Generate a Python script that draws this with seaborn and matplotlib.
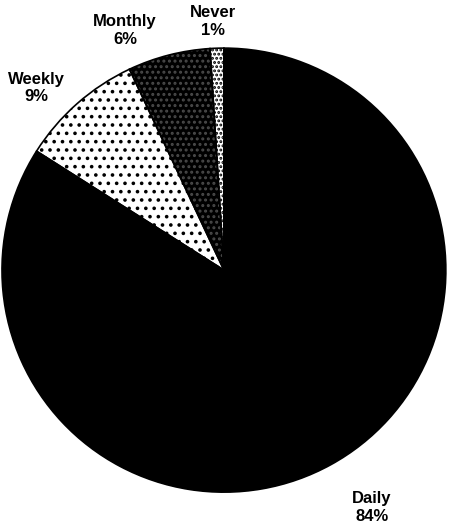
import matplotlib
matplotlib.use("Agg")
import matplotlib.pyplot as plt
import seaborn as sns

# data
categories = ["Daily", "Weekly", "Monthly", "Never"]
shares = [84, 9, 6, 1]

# look of each wedge: face colour, hatch, hatch colour
faces = ["black", "white", "black", "white"]
hatches = [None, "..", "...", "...."]
hatch_cols = ["black", "black", "#4a4a4a", "black"]

sns.set_style("white")
plt.rcParams['font.family'] = ['Liberation Sans', 'DejaVu Sans']
plt.rcParams['hatch.linewidth'] = 1.4

fig = plt.figure(figsize=(4.52, 5.23), dpi=100)
ax = fig.add_axes([0.0044, 0.059, 0.982, 0.849])

labels = [f"{c}\n{s}%" for c, s in zip(categories, shares)]
wedges, texts = ax.pie(shares, labels=labels, startangle=90, counterclock=False,
                       radius=1, labeldistance=1.17,
                       textprops=dict(fontsize=12, ha='center', va='center',
                                      color='black', fontweight='bold',
                                      linespacing=1.2),
                       wedgeprops=dict(linewidth=0))
for w, fc, h, hc in zip(wedges, faces, hatches, hatch_cols):
    w.set_facecolor(fc)
    w.set_edgecolor(hc)
    w.set_hatch(h)

# outline on top
outline, _ = ax.pie(shares, startangle=90, counterclock=False, radius=1,
                    wedgeprops=dict(fill=False, edgecolor='black', linewidth=1.2))

# nudge labels to where they sit in the original
label_xy = [(0.667, -1.07), (-0.847, 0.82), (-0.446, 1.08), (-0.05, 1.12)]
for t, (x, y) in zip(texts, label_xy):
    t.set_position((x, y))
    t.set_ha('center')

ax.set_xlim(-1, 1)
ax.set_ylim(-1, 1)
ax.set_aspect('auto')
ax.axis('off')

fig.savefig("out.png", dpi=100)
